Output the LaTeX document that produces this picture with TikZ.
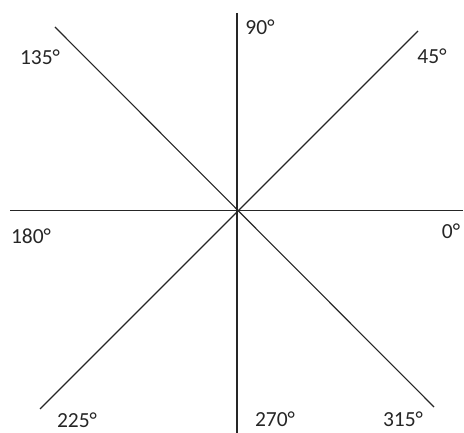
\documentclass[tikz,border=0pt]{standalone}
\usepackage{fontspec}
\setmainfont{Carlito}
\tikzset{
  axis/.style={line width=1.1pt, black!85},
  deg/.style={inner sep=0pt, font=\fontsize{21.5}{25}\selectfont, text=black!85}
}
\begin{document}
\begin{tikzpicture}[x=1pt, y=-1pt]
  \useasboundingbox (0,0) rectangle (464,433);
  \coordinate (o) at (237,210.5);

  \coordinate (e0) at (463,210.5);
  \coordinate (e45) at (418,31);
  \coordinate (e90) at (237,13);
  \coordinate (e135) at (55,27);
  \coordinate (e180) at (10,210.5);
  \coordinate (e225) at (40,409);
  \coordinate (e270) at (237,433);
  \coordinate (e315) at (434,407);

  \draw[axis] (e180) -- (e0);
  \draw[axis] (e90) -- (e270);
  \draw[axis] (e135) -- (e315);
  \draw[axis] (e225) -- (e45);

  \node[deg] (l0) at (451,231) {0°};
  \node[deg] (l45) at (432,56) {45°};
  \node[deg] (l90) at (260,27) {90°};
  \node[deg] (l135) at (40,57) {135°};
  \node[deg] (l180) at (31,236) {180°};
  \node[deg] (l225) at (77,420) {225°};
  \node[deg] (l270) at (275,419) {270°};
  \node[deg] (l315) at (403,419) {315°};
\end{tikzpicture}
\end{document}
